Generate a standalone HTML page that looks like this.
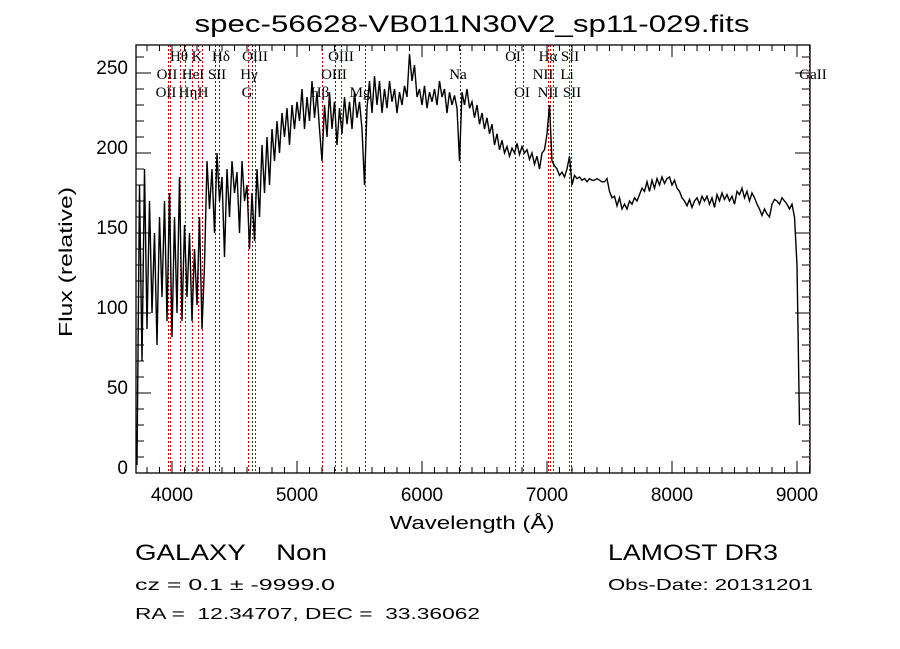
<!DOCTYPE html>
<html><head><meta charset="utf-8"><style>
html,body{margin:0;padding:0;background:#fff;}
svg{display:block;}
text{white-space:pre;}
</style></head><body>
<svg id="chart" width="900" height="649" viewBox="0 0 900 649" xmlns="http://www.w3.org/2000/svg" font-family="'Liberation Sans', sans-serif" xml:space="preserve">
<rect width="900" height="649" fill="#fff"/>
<text x="472" y="32" font-size="24" text-anchor="middle" textLength="555" lengthAdjust="spacingAndGlyphs">spec-56628-VB011N30V2_sp11-029.fits</text>
<g id="lines"></g>
<g id="labels" font-family="'Liberation Serif', serif" font-size="15" text-anchor="middle"></g>
<g id="series"></g>
<g id="axes"></g>
<text x="472" y="529" font-size="18" text-anchor="middle" textLength="165" lengthAdjust="spacingAndGlyphs">Wavelength (Å)</text>
<text transform="translate(72,262) rotate(-90)" font-size="18" text-anchor="middle" textLength="150" lengthAdjust="spacingAndGlyphs">Flux (relative)</text>
<text x="135" y="560" font-size="22" textLength="192" lengthAdjust="spacingAndGlyphs">GALAXY    Non</text>
<text x="608" y="560" font-size="22" textLength="170" lengthAdjust="spacingAndGlyphs">LAMOST DR3</text>
<text x="135" y="590" font-size="16" textLength="200" lengthAdjust="spacingAndGlyphs">cz = 0.1 ± -9999.0</text>
<text x="608" y="590" font-size="16" textLength="205" lengthAdjust="spacingAndGlyphs">Obs-Date: 20131201</text>
<text x="135" y="619" font-size="16" textLength="345" lengthAdjust="spacingAndGlyphs">RA =  12.34707, DEC =  33.36062</text>
</svg>
<script>
const waveStart = 3720;
const waveStep = 20;
const flux = [5,180,70,190,90,170,100,150,80,160,110,170,95,175,85,160,100,185,95,155,110,150,95,140,105,160,90,130,
195,165,190,150,200,170,185,135,190,160,195,175,188,150,195,170,180,
140,175,145,190,160,205,175,210,180,215,195,220,200,225,210,228,205,230,215,232,
220,240,215,235,220,245,222,238,215,195,230,210,238,215,232,205,228,212,235,218,232,215,238,222,232,215,180,228,245,225,248,230,245,225,240,228,245,232,240,225,238,230,242,235,262,245,255,235,240,230,242,228,238,232,240,230,245,235,240,225,238,230,236,228,195,238,230,240,228,232,222,230,218,225,215,222,212,218,205,212,202,208,200,204,198,203,200,206,199,204,200,202,196,200,193,198,190,200,202,212,230,195,192,190,186,188,185,190,198,180,186,184,185,183,184,182,184,183,183,184,183,182,182,184,176,172,173,167,172,165,168,165,170,168,172,170,174,178,176,182,176,183,178,184,180,185,181,184,185,180,183,178,176,172,170,167,171,166,170,172,168,173,170,173,168,172,166,174,170,175,171,174,170,173,168,176,174,178,172,176,170,175,172,168,165,161,165,162,160,168,171,170,168,172,170,168,165,168,160,130,30];
const lineWaves = [3969,3984,4064,4104,4160,4208,4240,4344,4376,4608,4640,4664,5200,5304,5352,5544,6304,6744,6808,7008,7024,7048,7176,7192,9096];
const lineDark = [0,0,0,0,0,0,0,1,1,0,1,0,0,1,0,1,1,1,1,0,0,0,0,1,0];
const labelTexts = ["Hθ","K","Hδ","OIII","OIII","OI","Hα","SII","OII","HeI","SII","Hγ","OIII","Na","NII","Li","GaII","OII","Hη","H","G","Hβ","Mg","OI","NII","SII"];
const labelWaves = [4056,4200,4392,4664,5352,6728,7008,7184,3960,4168,4360,4616,5296,6288,6968,7160,9128,3952,4128,4248,4600,5184,5504,6800,7008,7200];
const labelRows = [0,0,0,0,0,0,0,0,1,1,1,1,1,1,1,1,1,2,2,2,2,2,2,2,2,2];
const xTicks = [4000,5000,6000,7000,8000,9000];
const yTicks = [0,50,100,150,200,250];

const X0=136,X1=810,Y0=473,Y1=45,WMIN=3712,WMAX=9104,FMIN=0,FMAX=267.5;
const sx = w => X0 + (w-WMIN)/(WMAX-WMIN)*(X1-X0);
const sy = f => Y0 - (f-FMIN)/(FMAX-FMIN)*(Y0-Y1);
const NS="http://www.w3.org/2000/svg";
function mk(tag, parent){const e=document.createElementNS(NS,tag);parent.appendChild(e);return e;}

const gl=document.getElementById('lines');
lineWaves.forEach((w,i)=>{
  const l=mk('line',gl);
  
  
  const x=Math.round(sx(w))+0.5;
  l.setAttribute('x1',x);l.setAttribute('x2',x);l.setAttribute('y1',Y1);l.setAttribute('y2',Y0);
  l.setAttribute('stroke',lineDark[i]?'#402020':'#c00000');l.setAttribute('stroke-width','1');l.setAttribute('stroke-dasharray','2,2');
});
const glab=document.getElementById('labels');
const rowY=[61,79,97];
labelTexts.forEach((t,i)=>{
  const e=mk('text',glab);
  
  
  e.setAttribute('x',sx(labelWaves[i]));e.setAttribute('y',rowY[labelRows[i]]);
  e.textContent=t;
});
const gs=document.getElementById('series');
const p=mk('path',gs);


p.setAttribute('d',flux.map((f,i)=>(i?'L':'M')+sx(waveStart+i*waveStep).toFixed(1)+','+sy(f).toFixed(1)).join(''));
p.setAttribute('fill','none');p.setAttribute('stroke','#000');p.setAttribute('stroke-width','1.4');

const ga=document.getElementById('axes');
const fr=mk('rect',ga);


fr.setAttribute('x',X0);fr.setAttribute('y',Y1);fr.setAttribute('width',X1-X0);fr.setAttribute('height',Y0-Y1);
fr.setAttribute('fill','none');fr.setAttribute('stroke','#000');fr.setAttribute('stroke-width','1.3');
let d='';
for(let w=3800;w<=9100;w+=100){const x=sx(w).toFixed(1);const L=(w%1000===0)?12:6;d+=`M${x},${Y0}v${-L}M${x},${Y1}v${L}`;}
for(let f=10;f<=260;f+=10){const y=sy(f).toFixed(1);const L=(f%50===0)?15:8;d+=`M${X0},${y}h${L}M${X1},${y}h${-L}`;}
const tk=mk('path',ga);


tk.setAttribute('d',d);tk.setAttribute('stroke','#000');tk.setAttribute('stroke-width','1');
xTicks.forEach(v=>{const t=mk('text',ga);
  
  
  t.setAttribute('x',sx(v));t.setAttribute('y',501);t.setAttribute('font-size','19');t.setAttribute('text-anchor','middle');t.textContent=v;});
yTicks.forEach(v=>{const t=mk('text',ga);
  
  
  t.setAttribute('x',128);t.setAttribute('y',sy(v)+1);t.setAttribute('font-size','19');t.setAttribute('text-anchor','end');t.textContent=v;});
</script>
</body></html>
